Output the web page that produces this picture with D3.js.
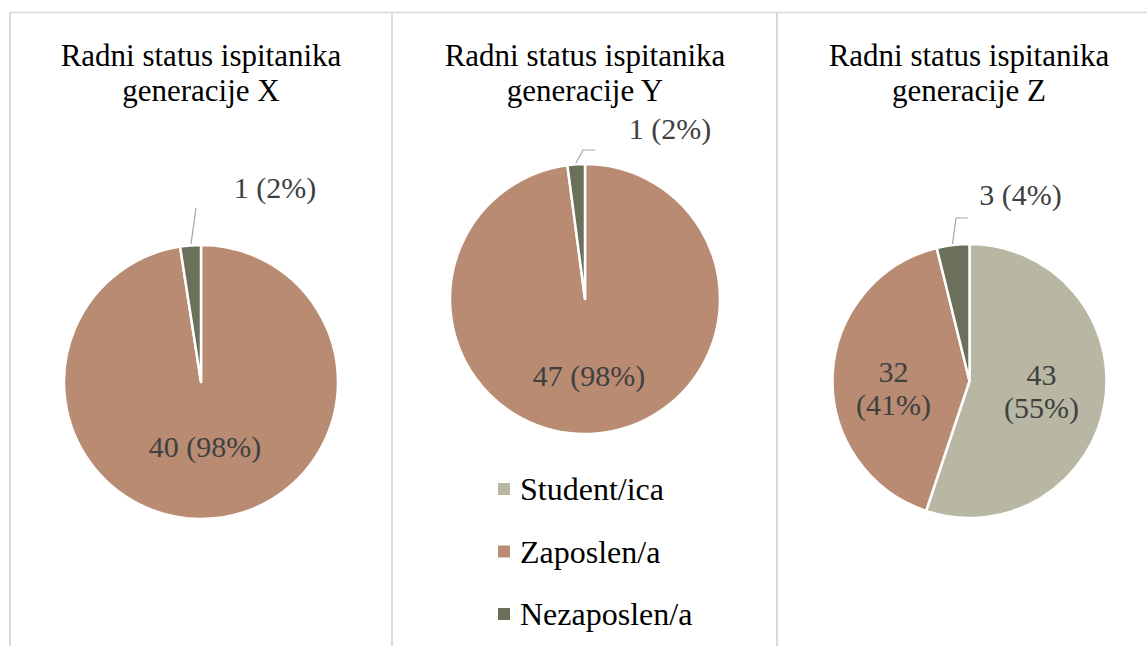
<!DOCTYPE html>
<html>
<head>
<meta charset="utf-8">
<script src="https://cdn.jsdelivr.net/npm/d3@7"></script>
<style>
  body { margin: 0; background: #fff; }
</style>
</head>
<body>
<div id="chart"></div>
<script>
const categories = ["Student/ica", "Zaposlen/a", "Nezaposlen/a"];
const colors = ["#b8b7a3", "#b98b72", "#6b705b"];
const generations = ["X", "Y", "Z"];
const valuesX = [0, 40, 1];
const valuesY = [0, 47, 1];
const valuesZ = [43, 32, 3];
const labelsX = ["", "40 (98%)", "1 (2%)"];
const labelsY = ["", "47 (98%)", "1 (2%)"];
const labelsZ = ["43\n(55%)", "32\n(41%)", "3 (4%)"];

const width = 1147, height = 646;
const serif = "'Liberation Serif', 'Times New Roman', Tinos, 'DejaVu Serif', serif";

const svg = d3.select("#chart").append("svg")
    .attr("width", width)
    .attr("height", height)
    .attr("font-family", serif)
    .style("font-family", serif);

// panel frames
const frame = svg.append("g").attr("stroke", "#d9d9d9").attr("stroke-width", 2).attr("fill", "none");
frame.append("line").attr("x1", 9).attr("x2", width).attr("y1", 12.5).attr("y2", 12.5).attr("stroke-width", 1.5);
[10, 392, 777].forEach(x => {
    frame.append("line").attr("x1", x).attr("x2", x).attr("y1", 12).attr("y2", height);
});

const panels = [
    { gen: "X", values: valuesX, labels: labelsX, cx: 201, cy: 382, r: 137, tx: 201 },
    { gen: "Y", values: valuesY, labels: labelsY, cx: 585, cy: 299, r: 135, tx: 585 },
    { gen: "Z", values: valuesZ, labels: labelsZ, cx: 969.5, cy: 381, r: 137, tx: 969 }
];

// label baselines (offset from pie centre), line gap for two-line labels, leader lines
const labelPos = {
    X: [null, { dx: 4, dy: 75 }, { dx: 74, dy: -184, leader: [[-5, -174], [-10, -138]] }],
    Y: [null, { dx: 4, dy: 87 }, { dx: 85, dy: -160, leader: [[10, -149], [-2, -149], [-9, -136]] }],
    Z: [{ dx: 72, dy: 4, gap: 33 }, { dx: -76, dy: 1, gap: 33 }, { dx: 51, dy: -176, leader: [[-1.5, -163], [-13.5, -163], [-17, -137]] }]
};

const pie = d3.pie().sort(null).value(d => d);

panels.forEach(p => {
    const g = svg.append("g").attr("transform", `translate(${p.cx},${p.cy})`);
    const arc = d3.arc().innerRadius(0).outerRadius(p.r);
    const arcs = pie(p.values);

    g.selectAll("path.slice")
        .data(arcs.filter(d => d.value > 0))
        .enter().append("path")
        .attr("class", "slice")
        .attr("d", arc)
        .attr("fill", d => colors[d.index])
        .attr("stroke", "#fff")
        .attr("stroke-width", 2.5)
        .attr("stroke-linejoin", "round");

    const pos = labelPos[p.gen];
    arcs.forEach((d, i) => {
        if (!pos[i] || d.value === 0) return;
        const lp = pos[i];
        if (lp.leader) {
            g.append("path")
                .attr("d", d3.line()(lp.leader))
                .attr("fill", "none")
                .attr("stroke", "#a6a6a6")
                .attr("stroke-width", 1.2);
        }
        const lines = p.labels[i].split("\n");
        const t = g.append("text")
            .attr("x", lp.dx)
            .attr("y", lp.dy)
            .attr("text-anchor", "middle")
            .attr("font-size", 30)
            .attr("fill", "#404040");
        lines.forEach((ln, k) => {
            t.append("tspan")
                .attr("x", lp.dx)
                .attr("dy", k === 0 ? 0 : lp.gap)
                .text(ln);
        });
    });

    const title = svg.append("text")
        .attr("x", p.tx)
        .attr("y", 66)
        .attr("text-anchor", "middle")
        .attr("font-size", 31)
        .attr("fill", "#000");
    title.append("tspan").attr("x", p.tx).text("Radni status ispitanika");
    title.append("tspan").attr("x", p.tx).attr("dy", 35).text("generacije " + p.gen);
});

// legend
const legend = svg.append("g").attr("transform", "translate(498,483)");
categories.forEach((c, i) => {
    const row = legend.append("g").attr("transform", `translate(0,${i * 62.5})`);
    row.append("rect").attr("x", 0).attr("y", 0).attr("width", 12).attr("height", 12).attr("fill", colors[i]);
    row.append("text")
        .attr("x", 22)
        .attr("y", 17)
        .attr("font-size", 32)
        .attr("fill", "#000")
        .text(c);
});
</script>
</body>
</html>
